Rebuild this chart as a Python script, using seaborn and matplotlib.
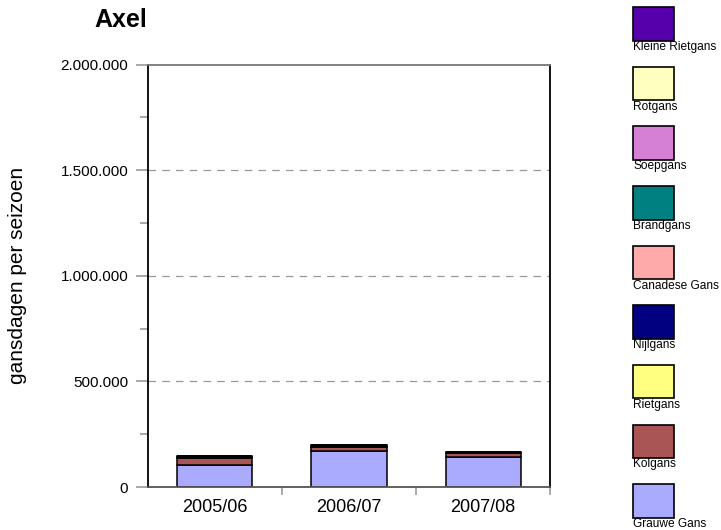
import numpy as np
import pandas as pd
import matplotlib
matplotlib.use("Agg")
import matplotlib.pyplot as plt
import matplotlib.ticker as mticker
from matplotlib.patches import Rectangle
import seaborn as sns

# seasons on the x axis
seasons = ['2005/06', '2006/07', '2007/08']

# species, in stacking order (bottom first)
species = ['Grauwe Gans', 'Kolgans', 'Rietgans', 'Nijlgans', 'Canadese Gans',
           'Brandgans', 'Soepgans', 'Rotgans', 'Kleine Rietgans']
colours = ['#AAAAFF', '#AA5555', '#FFFF80', '#000080', '#FFAAAA',
           '#008080', '#D580D5', '#FFFFC0', '#5500AA']

# gansdagen per seizoen, one list per species
grauwe_gans = [103000, 172000, 141000]
kolgans = [36000, 16000, 18000]
rietgans = [0, 0, 0]
nijlgans = [4000, 5000, 4000]
canadese_gans = [1000, 2000, 1000]
brandgans = [1000, 2000, 2000]
soepgans = [0, 0, 0]
rotgans = [0, 0, 0]
kleine_rietgans = [4000, 2000, 1000]

values = [grauwe_gans, kolgans, rietgans, nijlgans, canadese_gans,
          brandgans, soepgans, rotgans, kleine_rietgans]

sns.set_style("white")
plt.rcParams['font.family'] = ['Liberation Sans', 'DejaVu Sans']
plt.rcParams['text.color'] = 'black'
plt.rcParams['axes.labelcolor'] = 'black'
plt.rcParams['xtick.color'] = 'black'
plt.rcParams['ytick.color'] = 'black'

fig = plt.figure(figsize=(7.21, 5.30), dpi=100)
ax = fig.add_axes([0.205, 0.081, 0.558, 0.797])

bottom = np.zeros(len(seasons))
for name, col, vals in zip(species, colours, values):
    df = pd.DataFrame({'seizoen': seasons, 'gansdagen': vals})
    sns.barplot(data=df, x='seizoen', y='gansdagen', color=col,
                saturation=1, width=0.56, bottom=bottom,
                edgecolor='black', linewidth=1.1, ax=ax)
    bottom = bottom + np.array(vals)

ax.set_xlim(-0.5, 2.5)
ax.set_ylim(0, 2000000)
ax.set_xlabel('')
ax.set_ylabel('gansdagen per seizoen', fontsize=15)
ax.yaxis.set_label_coords(-0.30, 0.5)

ax.yaxis.set_major_locator(mticker.MultipleLocator(500000))
ax.yaxis.set_minor_locator(mticker.MultipleLocator(250000))
ax.yaxis.set_major_formatter(
    mticker.FuncFormatter(lambda v, p: f'{int(v):,}'.replace(',', '.')))
ax.tick_params(axis='y', which='major', left=True, length=9, width=1.2,
               color='#999999', labelsize=11, pad=5, labelcolor='black')
ax.tick_params(axis='y', which='minor', left=True, length=6, width=1.2,
               color='#999999')

# x ticks sit between the categories
ax.set_xticks([0, 1, 2])
ax.set_xticks([0.5, 1.5, 2.5], minor=True)
ax.tick_params(axis='x', which='major', bottom=False, labelsize=13, pad=5,
               labelcolor='black')
ax.tick_params(axis='x', which='minor', bottom=True, length=6, width=1.2,
               color='#999999')

for y in [500000, 1000000, 1500000]:
    ax.axhline(y, color='#999999', linestyle=(0, (6, 5)), linewidth=0.9,
               zorder=0)

ax.spines['left'].set_color('black')
ax.spines['left'].set_linewidth(1.3)
ax.spines['bottom'].set_color('#555555')
ax.spines['bottom'].set_linewidth(1.3)
ax.spines['top'].set_color('#777777')
ax.spines['top'].set_linewidth(1.3)
ax.spines['right'].set_color('black')
ax.spines['right'].set_linewidth(1.3)

fig.text(121 / 721, 1 - 20 / 530, 'Axel', fontsize=18, fontweight='bold',
         ha='center', va='center')

# legend: swatch with label underneath, top entry is the last species
W, H = 721, 530
for i, (name, col) in enumerate(zip(species[::-1], colours[::-1])):
    y_top = 7.3 + i * 59.6
    fig.patches.append(Rectangle((633 / W, 1 - (y_top + 33.5) / H),
                                 41 / W, 33.5 / H, transform=fig.transFigure,
                                 facecolor=col, edgecolor='black',
                                 linewidth=1.2))
    fig.text(633 / W, 1 - (y_top + 34) / H, name, fontsize=8.6,
             ha='left', va='top')

fig.savefig('out.png', dpi=100)
